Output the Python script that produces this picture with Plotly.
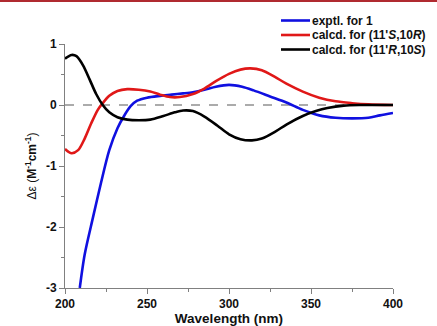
import plotly.graph_objects as go

# Blue: experimental
exp_nm = [209, 212, 217, 222, 227, 232, 236, 240, 244, 250, 258, 265, 272, 278, 285, 292, 300,
          308, 315, 325, 335, 345, 355, 365, 375, 385, 392, 400]
exp_de = [-3.0, -2.45, -1.85, -1.27, -0.74, -0.38, -0.18, -0.02, 0.07, 0.12, 0.15, 0.17, 0.19, 0.21, 0.25, 0.30, 0.33,
          0.30, 0.24, 0.14, 0.04, -0.08, -0.17, -0.21, -0.22, -0.21, -0.17, -0.13]

# Red: calcd for (11'S,10R)
s_nm = [200, 204, 208, 212, 216, 220, 223, 227, 232, 238, 245, 252, 258, 264, 270, 278, 285, 292, 300,
        307, 313, 320, 328, 335, 345, 355, 365, 375, 385, 400]
s_de = [-0.72, -0.79, -0.74, -0.55, -0.30, -0.08, 0.03, 0.15, 0.23, 0.26, 0.25, 0.22, 0.17, 0.13, 0.13, 0.18, 0.27, 0.39, 0.51,
        0.58, 0.60, 0.57, 0.46, 0.35, 0.22, 0.12, 0.06, 0.03, 0.01, 0.0]

# Black: calcd for (11'R,10S)
r_nm = [200, 204, 207, 211, 215, 219, 223, 227, 232, 238, 245, 252, 260, 267, 272, 278, 285, 293, 300,
        307, 314, 320, 328, 335, 345, 353, 360, 370, 380, 400]
r_de = [0.76, 0.82, 0.80, 0.65, 0.42, 0.18, 0.0, -0.12, -0.20, -0.24, -0.25, -0.24, -0.18, -0.12, -0.09, -0.10, -0.19, -0.34, -0.48,
        -0.56, -0.58, -0.55, -0.44, -0.32, -0.18, -0.10, -0.05, -0.01, 0.0, 0.0]

x_ticks = [200, 250, 300, 350, 400]
y_ticks = [1, 0, -1, -2, -3]
y_ticktext = ["1", "0", "-1", "-2", "-3"]

legend_labels = ["exptl. for 1",
                 "calcd. for (11'<i>S</i>,10<i>R</i>)",
                 "calcd. for (11'<i>R</i>,10<i>S</i>)"]
colors = ["#1010e0", "#e01818", "#000000"]

FONT = "Arial, Liberation Sans, Helvetica, sans-serif"

fig = go.Figure()
fig.add_trace(go.Scatter(x=exp_nm, y=exp_de, mode="lines", line=dict(color=colors[0], width=2.6, shape="spline", smoothing=0.8), showlegend=False))
fig.add_trace(go.Scatter(x=s_nm, y=s_de, mode="lines", line=dict(color=colors[1], width=2.6, shape="spline", smoothing=0.8), showlegend=False))
fig.add_trace(go.Scatter(x=r_nm, y=r_de, mode="lines", line=dict(color=colors[2], width=2.6, shape="spline", smoothing=0.8), showlegend=False))

# zero dashed line
fig.add_shape(type="line", xref="x", yref="y", x0=200, x1=400, y0=0, y1=0,
              line=dict(color="#909090", width=1.5, dash="dash"), layer="below")

W = 328.0
H = 244.0
def px_x(p):
    return (p - 65) / W
def px_y(p):
    return 1 + (44 - p) / H

# top border line
fig.add_shape(type="rect", xref="paper", yref="paper", x0=px_x(0), x1=px_x(437), y0=px_y(0), y1=px_y(2),
              line=dict(width=0), fillcolor="#b02a30", layer="above")

# manual legend
rows = [20.5, 35, 49.5]
for lab, c, ry in zip(legend_labels, colors, rows):
    fig.add_shape(type="line", xref="paper", yref="paper", x0=px_x(281), x1=px_x(310), y0=px_y(ry), y1=px_y(ry),
                  line=dict(color=c, width=2.6))
    fig.add_annotation(xref="paper", yref="paper", x=px_x(310), y=px_y(ry), text="<b>" + lab + "</b>",
                       showarrow=False, xanchor="left", yanchor="middle",
                       font=dict(family=FONT, size=12, color="#111111"))

fig.update_layout(
    width=437, height=326,
    margin=dict(l=65, r=44, t=44, b=38, autoexpand=False),
    paper_bgcolor="white", plot_bgcolor="white",
    font=dict(family=FONT, color="#111111"),
    xaxis=dict(range=[200, 400], tickvals=x_ticks, ticks="outside", ticklen=5, tickcolor="#808080",
               showline=True, linecolor="#808080", linewidth=1, showgrid=False, zeroline=False,
               tickfont=dict(family=FONT, size=12, color="#111111", weight="bold"),
               minor=dict(dtick=25, tick0=200, ticks="outside", ticklen=3, tickcolor="#808080"),
               title=dict(text="<b>Wavelength (nm)</b>", font=dict(family=FONT, size=13.5), standoff=3)),
    yaxis=dict(range=[-3, 1], tickvals=y_ticks, ticktext=y_ticktext, ticks="outside", ticklen=5, tickcolor="#808080",
               showline=True, linecolor="#808080", linewidth=1, showgrid=False, zeroline=False,
               tickfont=dict(family=FONT, size=12, color="#111111", weight="bold"),
               minor=dict(dtick=0.5, tick0=0, ticks="outside", ticklen=3, tickcolor="#808080"),
               title=dict(text="Δε (<b>M<sup>-1</sup>cm<sup>-1</sup></b>)", font=dict(family=FONT, size=12), standoff=6)),
)

fig.write_html("out.html", config={"displayModeBar": False},
               post_script="document.body.style.margin='0';document.body.style.overflow='hidden';")
